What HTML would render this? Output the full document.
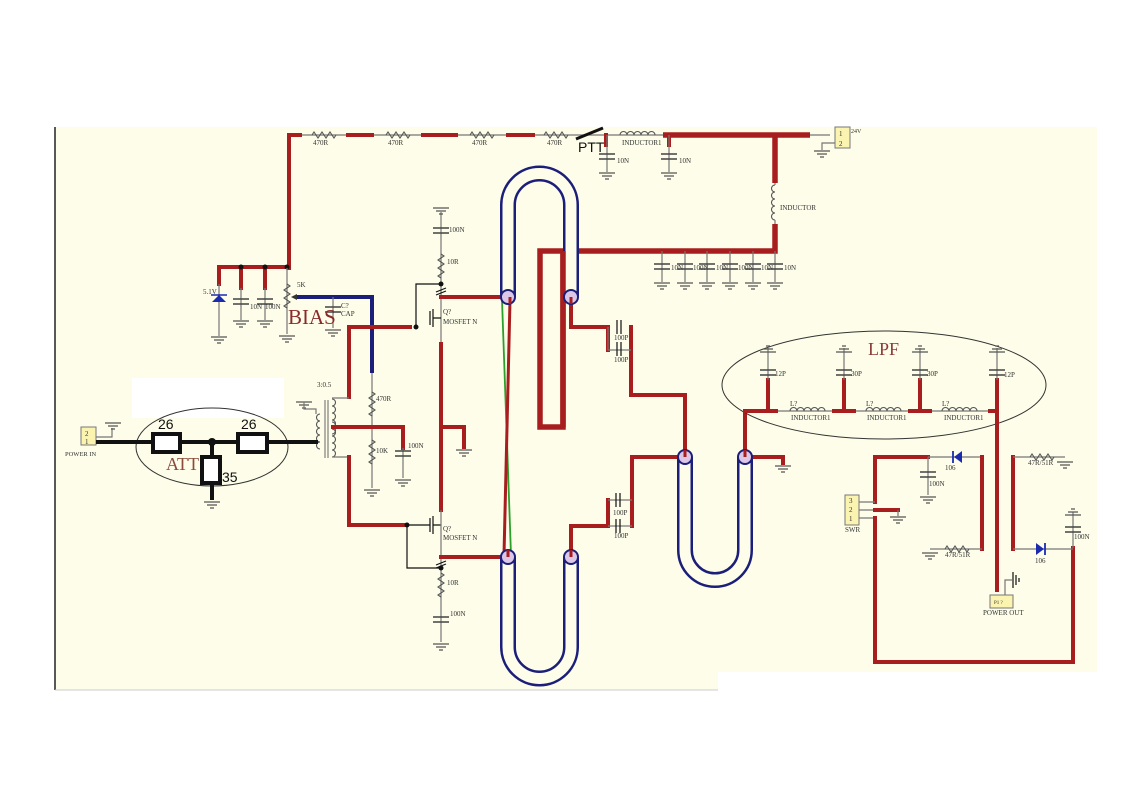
<!DOCTYPE html>
<html><head><meta charset="utf-8"><style>
html,body{margin:0;padding:0;background:#fff;}
svg{display:block;}
text{font-family:"Liberation Serif",serif;font-size:7px;fill:#333;}
.r{stroke:#a81e1e;stroke-width:4;fill:none;stroke-linecap:square;}
.rt{stroke:#a81e1e;stroke-width:5.5;fill:none;}
.g{stroke:#777;stroke-width:1.2;fill:none;}
.k{stroke:#111;stroke-width:1.2;fill:none;}
</style></head><body>
<svg width="1123" height="794" viewBox="0 0 1123 794" xmlns="http://www.w3.org/2000/svg">
<defs>
<g id="gnd"><path d="M-8,0H8M-5,3H5M-2,6H2" stroke="#555" stroke-width="1.2"/></g>
<g id="cap"><path d="M-8,0H8M-8,5H8" stroke="#444" stroke-width="1.5"/></g>
<g id="rv"><path d="M0,0l3,2l-6,4l6,4l-6,4l6,4l-6,4l3,2" stroke="#555" stroke-width="1.1" fill="none"/></g>
<g id="rh"><path d="M0,0l2,-3l4,6l4,-6l4,6l4,-6l4,6l2,-3" stroke="#555" stroke-width="1.1" fill="none"/></g>
<g id="lh"><path d="M0,0a3.5,3.5 0 0 1 7,0a3.5,3.5 0 0 1 7,0a3.5,3.5 0 0 1 7,0a3.5,3.5 0 0 1 7,0a3.5,3.5 0 0 1 7,0" stroke="#555" stroke-width="1.1" fill="none"/></g>
<g id="lv"><path d="M0,0a3.5,3.5 0 0 0 0,7a3.5,3.5 0 0 0 0,7a3.5,3.5 0 0 0 0,7a3.5,3.5 0 0 0 0,7a3.5,3.5 0 0 0 0,7" stroke="#555" stroke-width="1.1" fill="none"/></g>
</defs>
<rect x="55" y="127" width="1042" height="545" fill="#fdfde9"/>
<rect x="55" y="672" width="663" height="18" fill="#fdfde9"/>
<line x1="55" y1="127" x2="55" y2="690" stroke="#222" stroke-width="1.5"/>
<line x1="55" y1="690" x2="718" y2="690" stroke="#ccc" stroke-width="1"/>

<!-- top rail -->
<line x1="289" y1="135" x2="830" y2="135" class="g"/>
<path d="M289,268V135H300M348,135H372M423,135H456M508,135H533" class="r"/>
<use href="#rh" x="312" y="135"/><use href="#rh" x="386" y="135"/><use href="#rh" x="470" y="135"/><use href="#rh" x="544" y="135"/>
<text x="313" y="145">470R</text><text x="388" y="145">470R</text><text x="472" y="145">470R</text><text x="547" y="145">470R</text>
<line x1="576" y1="139" x2="603" y2="128" stroke="#111" stroke-width="3"/>
<text x="578" y="152" style="font-family:'Liberation Sans',sans-serif;font-size:14px;fill:#111">PTT</text>
<path d="M606,135V145" class="r"/>
<line x1="607" y1="135" x2="607" y2="172" class="g"/><use href="#cap" x="607" y="154"/><use href="#gnd" x="607" y="173"/><text x="617" y="163">10N</text>
<use href="#lh" x="620" y="135"/><text x="622" y="145">INDUCTOR1</text>
<path d="M663,135H810M775,135V183" class="rt"/>
<path d="M669,135V145" class="r"/>
<line x1="669" y1="135" x2="669" y2="172" class="g"/><use href="#cap" x="669" y="154"/><use href="#gnd" x="669" y="173"/><text x="679" y="163">10N</text>
<rect x="835" y="127" width="15" height="21" fill="#fbf3b0" stroke="#777"/>
<text x="839" y="136">1</text><text x="839" y="146">2</text><text x="851" y="133" style="font-size:6px">24V</text>
<path d="M835,143H822V150" class="g"/><use href="#gnd" x="822" y="151"/>
<use href="#lv" x="775" y="185"/><text x="780" y="210">INDUCTOR</text>
<line x1="775" y1="183" x2="775" y2="185" class="g"/><line x1="775" y1="220" x2="775" y2="224" class="g"/>
<path d="M775,224V251H540V427H563V251" class="rt"/>
<g>
<line x1="662" y1="251" x2="662" y2="282" class="g"/><use href="#cap" x="662" y="264"/><use href="#gnd" x="662" y="283"/><text x="671" y="270">10N</text>
<line x1="685" y1="251" x2="685" y2="282" class="g"/><use href="#cap" x="685" y="264"/><use href="#gnd" x="685" y="283"/><text x="693" y="270">100N</text>
<line x1="707" y1="251" x2="707" y2="282" class="g"/><use href="#cap" x="707" y="264"/><use href="#gnd" x="707" y="283"/><text x="716" y="270">10N</text>
<line x1="730" y1="251" x2="730" y2="282" class="g"/><use href="#cap" x="730" y="264"/><use href="#gnd" x="730" y="283"/><text x="738" y="270">100N</text>
<line x1="753" y1="251" x2="753" y2="282" class="g"/><use href="#cap" x="753" y="264"/><use href="#gnd" x="753" y="283"/><text x="761" y="270">10N</text>
<line x1="775" y1="251" x2="775" y2="282" class="g"/><use href="#cap" x="775" y="264"/><use href="#gnd" x="775" y="283"/><text x="784" y="270">10N</text>
</g>

<!-- bias section -->
<path d="M219,284V267H289" class="r"/>
<path d="M241,267V288M265,267V288" class="r"/>
<circle cx="241" cy="267" r="2.5" fill="#111"/><circle cx="265" cy="267" r="2.5" fill="#111"/><circle cx="287" cy="267" r="2.5" fill="#111"/>
<line x1="219" y1="284" x2="219" y2="336" class="g"/>
<path d="M212,302L226,302L219,295Z" fill="#1a2bb0"/><path d="M211,295H227" stroke="#1a2bb0" stroke-width="1.5"/>
<use href="#gnd" x="219" y="337"/><text x="203" y="294">5.1V</text>
<line x1="241" y1="288" x2="241" y2="320" class="g"/><use href="#cap" x="241" y="299"/><use href="#gnd" x="241" y="321"/>
<line x1="265" y1="288" x2="265" y2="320" class="g"/><use href="#cap" x="265" y="299"/><use href="#gnd" x="265" y="321"/>
<text x="250" y="309">10N</text><text x="265" y="309">100N</text>
<line x1="287" y1="268" x2="287" y2="334" class="g"/><use href="#rv" x="287" y="284"/><use href="#gnd" x="287" y="336"/>
<text x="297" y="287">5K</text>
<path d="M291,297L297,294V300Z" fill="#333"/>
<path d="M297,297H372V373" stroke="#1c1f7a" stroke-width="4" fill="none"/>
<line x1="333" y1="297" x2="333" y2="328" class="g"/><use href="#cap" x="333" y="307"/><use href="#gnd" x="333" y="330"/>
<text x="341" y="308">C?</text><text x="341" y="316">CAP</text>
<text x="288" y="324" style="font-size:21px;fill:#8b2a2a">BIAS</text>
<path d="M349,397V327H410" class="r"/>
<circle cx="416" cy="327" r="2.5" fill="#111"/>
<path d="M416,327V284H441" class="k"/>
<line x1="372" y1="373" x2="372" y2="488" class="g"/><use href="#rv" x="372" y="392"/><use href="#rv" x="372" y="440"/>
<use href="#gnd" x="372" y="490"/><text x="376" y="401">470R</text><text x="376" y="453">10K</text>

<!-- top mosfet -->
<line x1="441" y1="212" x2="441" y2="342" class="g"/>
<use href="#gnd" x="441" y="208"/><use href="#cap" x="441" y="228"/><text x="449" y="232">100N</text>
<use href="#rv" x="441" y="254"/><text x="447" y="264">10R</text>
<circle cx="441" cy="284" r="2.5" fill="#111"/><path d="M436,292l10,-4M436,295l10,-4" class="k"/>
<path d="M430,311V325M433,309V327M433,318H441" class="k"/>
<text x="443" y="314">Q?</text><text x="443" y="324">MOSFET N</text>
<path d="M441,297H506" class="r"/>
<path d="M441,344V510" class="r"/>
<path d="M441,427H464V447" class="r"/><use href="#gnd" x="464" y="450"/>

<!-- transformer -->
<text x="317" y="387">3:0.5</text>
<use href="#gnd" x="304" y="402"/>
<path d="M304,402V409H316V414" class="g"/>
<use href="#lv" x="320" y="414"/><use href="#lv" x="332" y="399" transform="translate(664,0) scale(-1,1)"/>
<use href="#lv" x="332" y="422" transform="translate(664,0) scale(-1,1)"/>
<line x1="325" y1="400" x2="325" y2="458" stroke="#666"/><line x1="328" y1="400" x2="328" y2="458" stroke="#666"/>
<path d="M332,398H349M332,457H349" class="g"/>
<path d="M349,457V525H405" class="r"/>
<path d="M333,427H403V448" class="r"/>
<line x1="403" y1="448" x2="403" y2="478" class="g"/><use href="#cap" x="403" y="451"/><use href="#gnd" x="403" y="480"/><text x="408" y="448">100N</text>

<!-- ATT -->
<rect x="132" y="378" width="152" height="40" fill="#fff"/>
<ellipse cx="212" cy="447" rx="76" ry="39" fill="none" stroke="#333" stroke-width="1"/>
<rect x="81" y="427" width="15" height="18" fill="#fbf3b0" stroke="#777"/>
<text x="85" y="436">2</text><text x="85" y="444">1</text>
<text x="65" y="456" style="font-size:6.5px">POWER IN</text>
<path d="M96,437H112V428" class="g"/><use href="#gnd" x="113" y="423"/>
<line x1="96" y1="442" x2="318" y2="442" stroke="#111" stroke-width="4"/>
<rect x="153" y="434" width="27" height="18" fill="#fff" stroke="#111" stroke-width="4"/>
<rect x="238" y="434" width="29" height="18" fill="#fff" stroke="#111" stroke-width="4"/>
<circle cx="212" cy="442" r="4" fill="#111"/>
<line x1="212" y1="442" x2="212" y2="500" stroke="#111" stroke-width="4"/>
<rect x="202" y="457" width="18" height="26" fill="#fff" stroke="#111" stroke-width="4"/>
<use href="#gnd" x="212" y="502"/>
<text x="158" y="429" style="font-family:'Liberation Sans',sans-serif;font-size:14px;fill:#111">26</text>
<text x="241" y="429" style="font-family:'Liberation Sans',sans-serif;font-size:14px;fill:#111">26</text>
<text x="222" y="482" style="font-family:'Liberation Sans',sans-serif;font-size:14px;fill:#111">35</text>
<text x="166" y="470" style="font-size:18px;fill:#8b4a3a">ATT</text>

<!-- bottom mosfet -->
<circle cx="407" cy="525" r="2.5" fill="#111"/>
<path d="M407,525H430M407,525V568H441" class="k"/>
<path d="M430,518V532M433,516V534M433,525H441" class="k"/>
<line x1="441" y1="510" x2="441" y2="642" class="g"/>
<text x="443" y="531">Q?</text><text x="443" y="540">MOSFET N</text>
<path d="M436,565l10,-4M436,568l10,-4" class="k"/>
<circle cx="441" cy="568" r="2.5" fill="#111"/>
<path d="M441,557H506" class="r"/>
<use href="#rv" x="441" y="573"/><text x="447" y="585">10R</text>
<use href="#cap" x="441" y="617"/><text x="450" y="616">100N</text><use href="#gnd" x="441" y="644"/>

<!-- coax pipes -->
<g fill="none" stroke-linecap="butt">
<path d="M508,297V205A31.5,31.5 0 0 1 571,205V297" stroke="#1c1f7a" stroke-width="16"/>
<path d="M508,297V205A31.5,31.5 0 0 1 571,205V297" stroke="#fdfde9" stroke-width="11"/>
<path d="M508,557V647A31.5,31.5 0 0 0 571,647V557" stroke="#1c1f7a" stroke-width="16"/>
<path d="M508,557V647A31.5,31.5 0 0 0 571,647V557" stroke="#fdfde9" stroke-width="11"/>
<path d="M685,457V550A30,30 0 0 0 745,550V457" stroke="#1c1f7a" stroke-width="16"/>
<path d="M685,457V550A30,30 0 0 0 745,550V457" stroke="#fdfde9" stroke-width="11"/>
</g>
<path d="M563,251V427" class="rt"/>
<line x1="502" y1="300" x2="511" y2="555" stroke="#2aa02a" stroke-width="1.8"/>
<line x1="510" y1="300" x2="504" y2="555" stroke="#a81e1e" stroke-width="3"/>
<path d="M571,297V327H608V350" class="r"/>
<path d="M631,327V395H685V457" class="r"/>
<path d="M608,327V350H631" class="g"/>
<path d="M617,320V334M621,320V334M617,342V356M621,342V356" class="k"/>
<text x="614" y="340">100P</text><text x="614" y="362">100P</text>
<path d="M571,557V526H608V500" class="r"/>
<path d="M632,526V457H678" class="r"/>
<path d="M608,500H632M608,526H632" class="g"/>
<path d="M616,493V507M620,493V507M616,519V533M620,519V533" class="k"/>
<text x="613" y="515">100P</text><text x="614" y="538">100P</text>
<path d="M745,457V411" class="r"/>
<path d="M752,457H783V463" class="r"/><use href="#gnd" x="783" y="466"/>
<g>
<circle cx="508" cy="297" r="7" fill="#dcc8e6" stroke="#1c1f7a" stroke-width="2"/>
<circle cx="571" cy="297" r="7" fill="#dcc8e6" stroke="#1c1f7a" stroke-width="2"/>
<circle cx="508" cy="557" r="7" fill="#dcc8e6" stroke="#1c1f7a" stroke-width="2"/>
<circle cx="571" cy="557" r="7" fill="#dcc8e6" stroke="#1c1f7a" stroke-width="2"/>
<circle cx="685" cy="457" r="7" fill="#dcc8e6" stroke="#1c1f7a" stroke-width="2"/>
<circle cx="745" cy="457" r="7" fill="#dcc8e6" stroke="#1c1f7a" stroke-width="2"/>
</g>
<path d="M510,297V304M571,297V304M508,557V550M571,557V550M685,457V450M745,457V450" stroke="#a81e1e" stroke-width="3"/>

<!-- LPF -->
<ellipse cx="884" cy="385" rx="162" ry="54" fill="none" stroke="#333" stroke-width="1"/>
<text x="868" y="355" style="font-size:18px;fill:#8b3a3a">LPF</text>
<line x1="745" y1="411" x2="997" y2="411" class="g"/>
<path d="M745,411H776M834,411H854M910,411H930M990,411H997" class="r"/>
<path d="M768,411V380M844,411V380M920,411V380M997,380V590" class="r"/>
<use href="#lh" x="790" y="411"/><use href="#lh" x="866" y="411"/><use href="#lh" x="942" y="411"/>
<text x="790" y="406">L?</text><text x="866" y="406">L?</text><text x="942" y="406">L?</text>
<text x="791" y="420">INDUCTOR1</text><text x="867" y="420">INDUCTOR1</text><text x="944" y="420">INDUCTOR1</text>
<g>
<line x1="768" y1="348" x2="768" y2="380" class="g"/><use href="#cap" x="768" y="370"/><use href="#gnd" x="768" y="346" transform="rotate(180 768 349)"/><text x="775" y="376">12P</text>
<line x1="844" y1="348" x2="844" y2="380" class="g"/><use href="#cap" x="844" y="370"/><use href="#gnd" x="844" y="346" transform="rotate(180 844 349)"/><text x="851" y="376">30P</text>
<line x1="920" y1="348" x2="920" y2="380" class="g"/><use href="#cap" x="920" y="370"/><use href="#gnd" x="920" y="346" transform="rotate(180 920 349)"/><text x="927" y="376">30P</text>
<line x1="997" y1="348" x2="997" y2="380" class="g"/><use href="#cap" x="997" y="370"/><use href="#gnd" x="997" y="346" transform="rotate(180 997 349)"/><text x="1004" y="377">12P</text>
</g>

<!-- SWR section -->
<path d="M875,502V457H928" class="r"/>
<path d="M928,457H982V549" class="g"/><path d="M982,457V549" class="r"/>
<line x1="928" y1="457" x2="928" y2="495" class="g"/><use href="#cap" x="928" y="472"/><use href="#gnd" x="928" y="497"/><text x="929" y="486">100N</text>
<path d="M954,457L962,451V463Z" fill="#1a2bb0"/><line x1="953" y1="451" x2="953" y2="463" stroke="#1a2bb0" stroke-width="1.8"/>
<text x="945" y="470">106</text>
<path d="M930,549H982" class="g"/><use href="#rh" x="945" y="549"/><use href="#gnd" x="930" y="553"/>
<text x="945" y="557">47R/51R</text>
<rect x="845" y="495" width="14" height="30" fill="#fbf3b0" stroke="#777"/>
<text x="849" y="503">3</text><text x="849" y="512">2</text><text x="849" y="521">1</text>
<text x="845" y="532">SWR</text>
<path d="M859,502H875M859,510H895M859,518H875" class="g"/>
<path d="M875,510H898" class="r"/><line x1="898" y1="510" x2="898" y2="516" class="g"/><use href="#gnd" x="898" y="517"/>
<path d="M875,518V662H1073V548" class="r"/>
<path d="M1013,457V549" class="r"/>
<path d="M1013,457H1065" class="g"/><use href="#rh" x="1030" y="457"/><use href="#gnd" x="1065" y="462"/>
<text x="1028" y="465">47R/51R</text>
<path d="M1013,549H1073" class="g"/>
<path d="M1044,549L1036,543V555Z" fill="#1a2bb0"/><line x1="1045" y1="543" x2="1045" y2="555" stroke="#1a2bb0" stroke-width="1.8"/>
<text x="1035" y="563">106</text>
<line x1="1073" y1="512" x2="1073" y2="548" class="g"/><use href="#cap" x="1073" y="527"/><use href="#gnd" x="1073" y="509" transform="rotate(180 1073 512)"/><text x="1074" y="539">100N</text>
<rect x="990" y="595" width="23" height="13" fill="#fbf3b0" stroke="#777"/>
<text x="994" y="604" style="font-size:5px">P1 ?</text>
<text x="983" y="615">POWER OUT</text>
<path d="M1005,595V580H1012" class="g"/><path d="M1013,572V588M1016,575V585M1019,578V582" class="k"/>
</svg>
</body></html>
